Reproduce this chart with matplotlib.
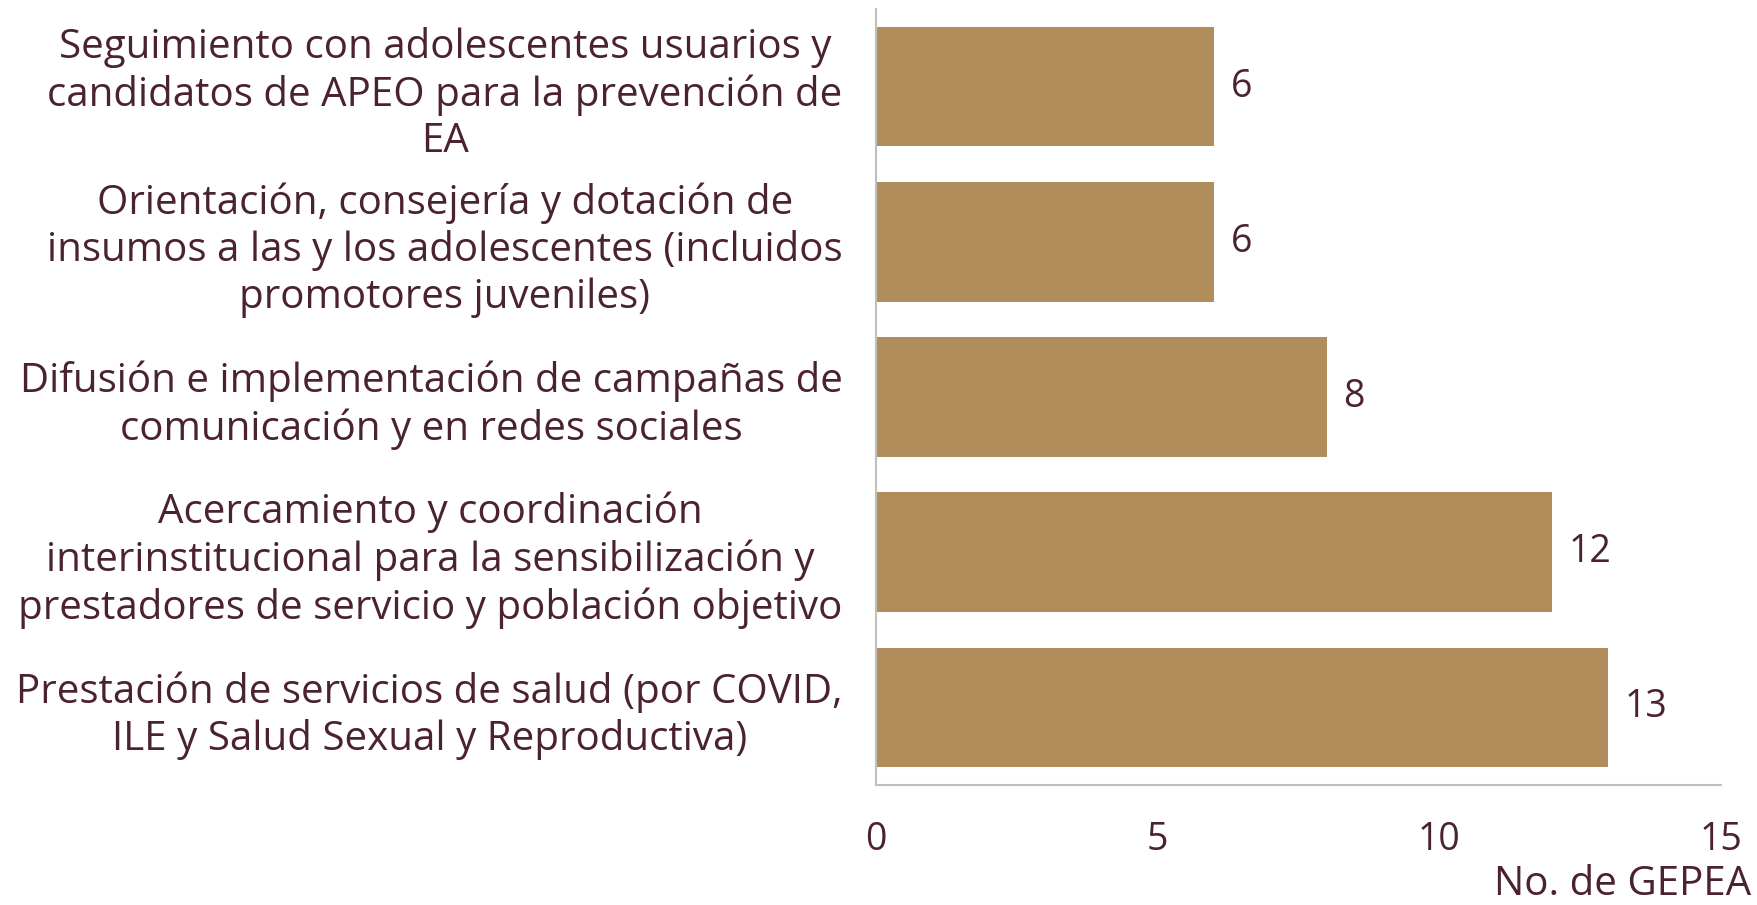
import matplotlib.pyplot as plt

# Data (bottom to top, as drawn)
categories = [
    "Prestación de servicios de salud (por COVID,\nILE y Salud Sexual y Reproductiva)",
    "Acercamiento y coordinación\ninterinstitucional para la sensibilización y\nprestadores de servicio y población objetivo",
    "Difusión e implementación de campañas de\ncomunicación y en redes sociales",
    "Orientación, consejería y dotación de\ninsumos a las y los adolescentes (incluidos\npromotores juveniles)",
    "Seguimiento con adolescentes usuarios y\ncandidatos de APEO para la prevención de\nEA",
]
values = [13, 12, 8, 6, 6]
x_ticks = [0, 5, 10, 15]
x_label = "No. de GEPEA"

text_color = "#4a2230"
bar_color = "#b18d5b"
spine_color = "#bfbfbf"

plt.rcParams['font.family'] = ['Open Sans', 'DejaVu Sans']

fig = plt.figure(figsize=(17.57, 9.05), dpi=100)
ax = fig.add_axes([0.4986, 0.1326, 0.4809, 0.8574])

y = list(range(len(categories)))
ax.barh(y, values, height=0.77, color=bar_color)

for yi, v in zip(y, values):
    ax.annotate(str(v), (v, yi), xytext=(12, 0), textcoords="offset points",
                va="center", ha="left", fontsize=27, color=text_color)

ax.set_xlim(0, 15)
ax.set_ylim(-0.5, len(categories) - 0.5)
ax.set_xticks(x_ticks)
ax.set_xticklabels([str(t) for t in x_ticks], fontsize=27, color=text_color)
ax.set_yticks(y)
ax.set_yticklabels(categories, fontsize=29, color=text_color)
for lbl in ax.get_yticklabels():
    lbl.set_multialignment("center")
    lbl.set_linespacing(1.2)

ax.tick_params(axis="both", length=0)
ax.tick_params(axis="x", pad=26)
ax.tick_params(axis="y", pad=24)

for s in ["top", "right"]:
    ax.spines[s].set_visible(False)
for s in ["left", "bottom"]:
    ax.spines[s].set_color(spine_color)
    ax.spines[s].set_linewidth(1.5)

fig.text(0.997, 0.0, x_label, ha="right", va="bottom", fontsize=29, color=text_color)

fig.savefig("out.png", dpi=100, facecolor="white")
